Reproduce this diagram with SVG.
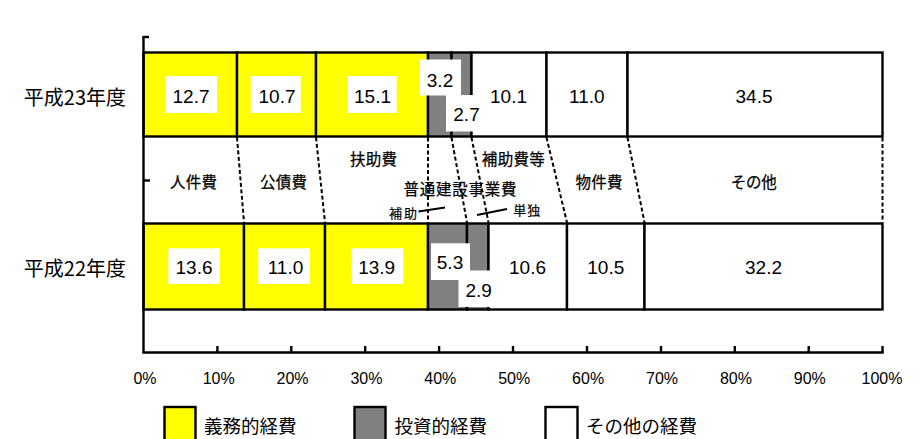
<svg xmlns="http://www.w3.org/2000/svg" width="921" height="439" viewBox="0 0 921 439">
<style>
  .bg{fill:#ffffff}
  .y{fill:#ffff00;stroke:#000;stroke-width:2.4}
  .g{fill:#808080;stroke:#000;stroke-width:2.4}
  .w{fill:#ffffff;stroke:#000;stroke-width:2.4}
  .ln{stroke:#000;stroke-width:2.4;fill:none}
  .dash{stroke:#000;stroke-width:2;stroke-dasharray:4 2.5;fill:none}
  .lead{stroke:#000;stroke-width:1.8;fill:none}
  .box{fill:#ffffff}
  .val{font-family:"Liberation Sans",Arial,sans-serif;font-size:19px;fill:#000;text-anchor:middle}
  .ax{font-family:"Liberation Sans",Arial,sans-serif;font-size:16px;fill:#000;text-anchor:middle}
  .cat{font-family:"Noto Sans CJK JP","Noto Sans",sans-serif;font-size:15.5px;fill:#000;stroke:#000;stroke-width:0.25;text-anchor:middle;dominant-baseline:central}
  .sm{font-family:"Noto Sans CJK JP","Noto Sans",sans-serif;font-size:13px;fill:#000;stroke:#000;stroke-width:0.2;text-anchor:middle;dominant-baseline:central}
  .yr{font-family:"Noto Sans CJK JP","Noto Sans",sans-serif;font-size:20px;fill:#000;text-anchor:end;dominant-baseline:central}
  .lg{font-family:"Noto Sans CJK JP","Noto Sans",sans-serif;font-size:18.5px;fill:#000;text-anchor:start;dominant-baseline:central}
</style>
<rect class="bg" x="0" y="0" width="921" height="439"/>

<g id="category-band">
  <rect class="w" x="143.5" y="136.5" width="739" height="87" style="stroke:none"/>
</g>

<g id="bar-h23">
  <rect class="y" x="143.5" y="52.5" width="93.5" height="84"/>
  <rect class="y" x="237" y="52.5" width="79" height="84"/>
  <rect class="y" x="316" y="52.5" width="112" height="84"/>
  <rect class="g" x="428" y="52.5" width="23.5" height="84"/>
  <rect class="g" x="451.5" y="52.5" width="20" height="84"/>
  <rect class="w" x="471.5" y="52.5" width="75" height="84"/>
  <rect class="w" x="546.5" y="52.5" width="81" height="84"/>
  <rect class="w" x="627.5" y="52.5" width="255" height="84"/>
</g>

<g id="bar-h22">
  <rect class="y" x="143.5" y="223.5" width="100.5" height="86"/>
  <rect class="y" x="244" y="223.5" width="81" height="86"/>
  <rect class="y" x="325" y="223.5" width="103" height="86"/>
  <rect class="g" x="428" y="223.5" width="39" height="86"/>
  <rect class="g" x="467" y="223.5" width="21.5" height="86"/>
  <rect class="w" x="488.5" y="223.5" width="78.5" height="86"/>
  <rect class="w" x="567" y="223.5" width="77.5" height="86"/>
  <rect class="w" x="644.5" y="223.5" width="238" height="86"/>
</g>

<g id="connectors">
  <line class="dash" x1="237" y1="137.5" x2="244" y2="222.5"/>
  <line class="dash" x1="316" y1="137.5" x2="325" y2="222.5"/>
  <line class="dash" x1="428" y1="137.5" x2="428" y2="222.5"/>
  <line class="dash" x1="451.5" y1="137.5" x2="467" y2="222.5"/>
  <line class="dash" x1="471.5" y1="137.5" x2="488.5" y2="222.5"/>
  <line class="dash" x1="546.5" y1="137.5" x2="567" y2="222.5"/>
  <line class="dash" x1="627.5" y1="137.5" x2="644.5" y2="222.5"/>
  <line class="dash" x1="882.5" y1="137.5" x2="882.5" y2="222.5"/>
  <line class="lead" x1="418.5" y1="211.5" x2="445" y2="207.5"/>
  <line class="lead" x1="477" y1="215" x2="507" y2="209"/>
</g>

<g id="axis">
  <line class="ln" x1="143.5" y1="37" x2="143.5" y2="352.5"/>
  <line class="ln" x1="142.3" y1="37" x2="149" y2="37"/>
  <line class="ln" x1="143.5" y1="180.5" x2="150" y2="180.5"/>
  <line class="ln" x1="142.3" y1="352.5" x2="883.7" y2="352.5"/>
  <path class="ln" d="M217.4 346V352.5M291.3 346V352.5M365.2 346V352.5M439.1 346V352.5M513 346V352.5M587 346V352.5M661 346V352.5M734.8 346V352.5M808.7 346V352.5M882.5 346V352.5"/>
  <text class="ax" x="145" y="383.5">0%</text>
  <text class="ax" x="218.7" y="383.5">10%</text>
  <text class="ax" x="292.5" y="383.5">20%</text>
  <text class="ax" x="366.4" y="383.5">30%</text>
  <text class="ax" x="440.3" y="383.5">40%</text>
  <text class="ax" x="514.2" y="383.5">50%</text>
  <text class="ax" x="588.1" y="383.5">60%</text>
  <text class="ax" x="662" y="383.5">70%</text>
  <text class="ax" x="735.9" y="383.5">80%</text>
  <text class="ax" x="809.8" y="383.5">90%</text>
  <text class="ax" x="882" y="383.5">100%</text>
  <text class="yr" x="126" y="96">平成23年度</text>
  <text class="yr" x="126" y="267">平成22年度</text>
</g>

<g id="values-h23">
  <rect class="box" x="165" y="76" width="52" height="37"/>
  <text class="val" x="191" y="103">12.7</text>
  <rect class="box" x="250.7" y="76" width="50" height="37"/>
  <text class="val" x="277" y="103">10.7</text>
  <rect class="box" x="347.3" y="76" width="49.4" height="37"/>
  <text class="val" x="372.5" y="103">15.1</text>
  <rect class="box" x="420" y="59.5" width="41" height="36"/>
  <text class="val" x="440" y="86.5">3.2</text>
  <rect class="box" x="446" y="95" width="40" height="36.5"/>
  <text class="val" x="466.5" y="120.7">2.7</text>
  <text class="val" x="508.5" y="103">10.1</text>
  <text class="val" x="586.8" y="103">11.0</text>
  <text class="val" x="754" y="103">34.5</text>
</g>

<g id="values-h22">
  <rect class="box" x="168.3" y="248.3" width="51.7" height="35.7"/>
  <text class="val" x="194" y="274">13.6</text>
  <rect class="box" x="258.3" y="248.3" width="51.7" height="35.7"/>
  <text class="val" x="285.5" y="274">11.0</text>
  <rect class="box" x="351.7" y="248.3" width="51.6" height="35.7"/>
  <text class="val" x="376.7" y="274">13.9</text>
  <rect class="box" x="458.5" y="270.5" width="40" height="36.5"/>
  <text class="val" x="478.7" y="296.7">2.9</text>
  <rect class="box" x="431" y="243.3" width="39" height="36.7"/>
  <text class="val" x="450" y="269">5.3</text>
  <text class="val" x="527.5" y="274">10.6</text>
  <text class="val" x="605.8" y="274">10.5</text>
  <text class="val" x="763.5" y="274">32.2</text>
</g>

<g id="category-labels">
  <text class="cat" x="193.5" y="181" textLength="47" lengthAdjust="spacing">人件費</text>
  <text class="cat" x="283.5" y="181" textLength="47" lengthAdjust="spacing">公債費</text>
  <text class="cat" x="373.5" y="158" textLength="47" lengthAdjust="spacing">扶助費</text>
  <text class="cat" x="513.3" y="158" textLength="63" lengthAdjust="spacing">補助費等</text>
  <text class="cat" x="460" y="187.5" textLength="113" lengthAdjust="spacing">普通建設事業費</text>
  <text class="cat" x="599" y="180.5" textLength="47" lengthAdjust="spacing">物件費</text>
  <text class="cat" x="753.7" y="181" textLength="46" lengthAdjust="spacing">その他</text>
  <text class="sm" x="403" y="212" textLength="28" lengthAdjust="spacing">補助</text>
  <text class="sm" x="526.7" y="209.7" textLength="27" lengthAdjust="spacing">単独</text>
</g>

<g id="legend">
  <rect class="y" x="164.5" y="407" width="31" height="34"/>
  <text class="lg" x="204" y="424.5">義務的経費</text>
  <rect class="g" x="354.5" y="407" width="31" height="34"/>
  <text class="lg" x="394.5" y="424.5">投資的経費</text>
  <rect class="w" x="545.5" y="407" width="32" height="34"/>
  <text class="lg" x="586" y="424.5">その他の経費</text>
</g>
</svg>
